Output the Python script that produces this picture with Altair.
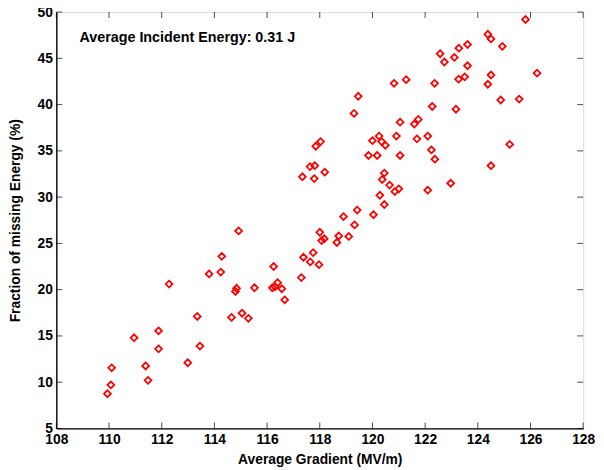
import altair as alt
import pandas as pd

# Data
gradient = [
    109.94, 110.07, 110.10, 110.95, 111.39, 111.48, 111.88, 111.88, 112.28, 112.99,
    113.35, 113.45, 113.80, 114.24, 114.28, 114.65, 114.80, 114.84, 114.92, 115.05,
    115.29, 115.52, 116.20, 116.30, 116.25, 116.40, 116.56, 116.67, 117.30, 117.38,
    117.64, 117.75, 117.97, 118.00, 118.07, 118.17, 118.65, 118.72, 118.90, 119.10,
    119.32, 119.42, 120.04, 120.28, 120.45, 120.37, 120.65, 120.85, 121.00, 120.45,
    119.85, 120.18, 121.05, 120.00, 120.25, 120.35, 120.49, 120.91, 121.05, 121.59,
    121.74, 121.69, 122.10, 122.24, 122.37, 122.10, 122.97, 122.27, 123.17, 119.30,
    119.46, 120.82, 121.28, 122.36, 122.57, 122.73, 123.11, 123.28, 123.61, 123.61,
    123.27, 123.50, 124.38, 124.50, 124.93, 125.81, 124.50, 124.38, 126.25, 124.87,
    125.57, 125.21, 124.50, 117.34, 117.63, 117.81, 117.79, 118.19, 118.03, 117.85,
]
missing = [
    8.75, 9.70, 11.55, 14.80, 11.75, 10.20, 15.55, 13.60, 20.60, 12.10,
    17.10, 13.90, 21.70, 21.90, 23.60, 17.00, 19.80, 20.15, 26.35, 17.45,
    16.90, 20.20, 20.20, 20.30, 22.50, 20.75, 20.10, 18.90, 21.30, 23.50,
    23.00, 24.00, 22.70, 26.20, 25.30, 25.50, 25.10, 25.80, 27.90, 25.75,
    27.00, 28.60, 28.10, 30.20, 29.20, 31.90, 31.30, 30.60, 30.90, 32.60,
    34.50, 34.50, 34.50, 36.10, 36.60, 36.00, 35.60, 36.60, 38.10, 37.90,
    38.40, 36.30, 36.60, 35.10, 34.10, 30.75, 31.50, 39.80, 39.50, 39.05,
    40.90, 42.30, 42.70, 42.30, 45.50, 44.60, 45.10, 46.10, 46.50, 44.20,
    42.75, 43.00, 47.60, 47.10, 46.30, 49.20, 43.20, 42.20, 43.40, 40.50,
    40.60, 35.70, 33.40, 32.20, 33.30, 33.40, 32.00, 32.70, 36.00, 35.50,
]
x_ticks = [108, 110, 112, 114, 116, 118, 120, 122, 124, 126, 128]
y_ticks = [5, 10, 15, 20, 25, 30, 35, 40, 45, 50]
annotation = ["Average Incident Energy: 0.31 J"]
annotation_x = [108.88]
annotation_y = [47.15]

FONT = "Liberation Sans"
FS = 14

df = pd.DataFrame({"g": gradient, "m": missing})
xt = pd.DataFrame({"g": x_ticks})
yt = pd.DataFrame({"m": y_ticks})
ann = pd.DataFrame({"g": annotation_x, "m": annotation_y, "t": annotation})

xscale = alt.Scale(domain=[108, 128], nice=False, zero=False)
yscale = alt.Scale(domain=[5, 50], nice=False, zero=False)

xaxis = alt.Axis(values=x_ticks, title="Average Gradient (MV/m)", ticks=False, grid=False,
                 labelFont=FONT, labelFontSize=FS, labelFontWeight="bold", labelColor="black",
                 labelPadding=4, titleFont=FONT, titleFontSize=FS, titleFontWeight="bold",
                 titleColor="black", titlePadding=7, domainColor="black", domainWidth=1.4,
                 labelFlush=False)
yaxis = alt.Axis(values=y_ticks, title="Fraction of missing Energy (%)", ticks=False, grid=False,
                 labelFont=FONT, labelFontSize=FS, labelFontWeight="bold", labelColor="black",
                 labelPadding=4, titleFont=FONT, titleFontSize=FS, titleFontWeight="bold",
                 titleColor="black", titlePadding=15, domainColor="black", domainWidth=1.4,
                 labelFlush=False)

points = alt.Chart(df).mark_point(shape="diamond", filled=False, color="#ff0000",
                                  size=48, strokeWidth=1.8, opacity=1).encode(
    x=alt.X("g:Q", scale=xscale, axis=xaxis),
    y=alt.Y("m:Q", scale=yscale, axis=yaxis),
)

tick_len = 6
bottom = alt.Chart(xt).mark_tick(orient="vertical", size=tick_len, thickness=1, color="black",
                                 yOffset=-tick_len / 2).encode(x="g:Q", y=alt.datum(5))
top = alt.Chart(xt).mark_tick(orient="vertical", size=tick_len, thickness=1, color="black",
                              yOffset=tick_len / 2).encode(x="g:Q", y=alt.datum(50))
left = alt.Chart(yt).mark_tick(orient="horizontal", size=tick_len, thickness=1, color="black",
                               xOffset=tick_len / 2).encode(y="m:Q", x=alt.datum(108))
right = alt.Chart(yt).mark_tick(orient="horizontal", size=tick_len, thickness=1, color="black",
                                xOffset=-tick_len / 2).encode(y="m:Q", x=alt.datum(128))

text = alt.Chart(ann).mark_text(align="left", baseline="middle", font=FONT, fontSize=14.5,
                                fontWeight="bold", color="black").encode(
    x="g:Q", y="m:Q", text="t:N")

chart = alt.layer(points, bottom, top, left, right, text).properties(
    width=534, height=422,
    padding={"left": 49, "top": 1, "right": 13, "bottom": 39},
    autosize=alt.AutoSizeParams(type="none"),
).configure_view(stroke="black", strokeWidth=1.4).configure(background="white")

chart.save("out.html", embed_options={"renderer": "svg", "actions": False})
